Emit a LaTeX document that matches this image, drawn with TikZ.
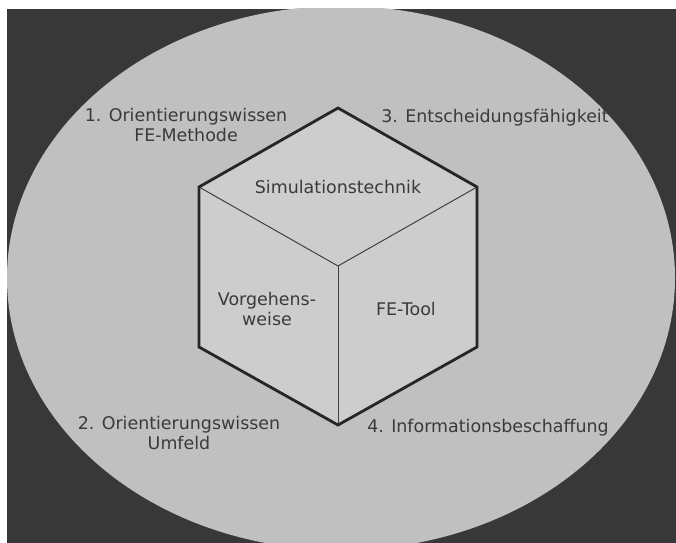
\documentclass[tikz,border=0pt]{standalone}
\usepackage{fontspec}
\setmainfont{DejaVu Sans}
\usepackage{tikz}
\definecolor{backdark}{RGB}{56,56,56}
\definecolor{ovalgray}{RGB}{192,192,192}
\definecolor{facegray}{RGB}{205,205,205}
\definecolor{textgray}{RGB}{58,58,58}
\tikzstyle{area} = [text=textgray, font=\fontsize{12.4}{13.8}\selectfont, align=center, inner sep=0pt]
\tikzstyle{rim} = [line width=2pt, line join=miter, color=black!85]
\tikzstyle{crease} = [line width=0.7pt, color=black!75]

\begin{document}
\begin{tikzpicture}[x=0.025cm, y=-0.025cm]
        \useasboundingbox (0,0) rectangle (676,543);
        \fill[white] (0,0) rectangle (676,543);
        \fill[backdark] (7,9) rectangle (676,543);
        \begin{scope}
            \clip (7,9) rectangle (676,543);
            \fill[ovalgray] (341,278) ellipse [x radius=334, y radius=272];
        \end{scope}

        % cube corners
        \coordinate (top) at (338,108);
        \coordinate (upLeft) at (199,187);
        \coordinate (upRight) at (477,187);
        \coordinate (mid) at (338,266);
        \coordinate (lowLeft) at (199,347);
        \coordinate (lowRight) at (477,347);
        \coordinate (bottom) at (338,425);

        \fill[facegray] (top) -- (upRight) -- (lowRight) -- (bottom) -- (lowLeft) -- (upLeft) -- cycle;
        \draw[crease] (upLeft) -- (mid) -- (upRight);
        \draw[crease] (mid) -- (bottom);
        \draw[rim] (top) -- (upRight) -- (lowRight) -- (bottom) -- (lowLeft) -- (upLeft) -- cycle;

        % faces
        \node [area] (simulation) at (338,187) {Simulationstechnik};
        \node [area] (procedure) at (267,309) {Vorgehens-\\weise};
        \node [area] (feTool) at (406,309) {FE-Tool};

        % fields round the cube
        \node [area] (orientMethod) at (186,125) {1. Orientierungswissen\\FE-Methode};
        \node [area] (decision) at (495,118) {3. Entscheidungsfähigkeit};
        \node [area] (orientEnv) at (179,433) {2. Orientierungswissen\\Umfeld};
        \node [area] (information) at (488,428) {4. Informationsbeschaffung};
    \end{tikzpicture}
\end{document}
